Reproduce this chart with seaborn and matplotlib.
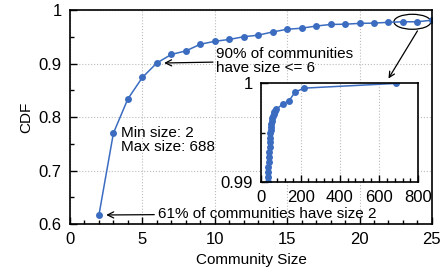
import matplotlib
matplotlib.use("Agg")
import matplotlib.pyplot as plt
import seaborn as sns
import pandas as pd
from matplotlib.patches import Ellipse
from matplotlib.ticker import MultipleLocator

# CDF of community sizes (main view, sizes 2..25)
sizes = [2, 3, 4, 5, 6, 7, 8, 9, 10, 11, 12, 13, 14, 15, 16, 17, 18, 19, 20, 21, 22, 23, 24, 25]
cdf = [0.617, 0.770, 0.834, 0.874, 0.901, 0.917, 0.9235, 0.936, 0.9415, 0.945, 0.950, 0.953,
       0.959, 0.964, 0.966, 0.970, 0.973, 0.9735, 0.975, 0.9755, 0.977, 0.978, 0.978, 0.981]

# tail of the same CDF (inset, zoomed to 0.99..1)
tail_sizes = [30, 32, 33, 35, 36, 38, 39, 40, 42, 43, 44, 45, 47, 48, 50, 52, 55, 58, 62, 66,
              70, 75, 109, 141, 172, 218, 688]
tail_cdf = [0.9895, 0.9900, 0.9905, 0.9910, 0.9915, 0.9920, 0.9925, 0.9930, 0.9935, 0.9940,
            0.9945, 0.9950, 0.9953, 0.9956, 0.9959, 0.9962, 0.9965, 0.9967, 0.9969, 0.9971,
            0.9972, 0.99735, 0.9979, 0.99823, 0.99912, 0.99952, 1.0]

main_df = pd.DataFrame({"size": sizes, "cdf": cdf})
tail_df = pd.DataFrame({"size": tail_sizes, "cdf": tail_cdf})

sns.set_style("ticks")
plt.rcParams["font.family"] = ["Liberation Sans", "DejaVu Sans"]
plt.rcParams["text.color"] = "black"
plt.rcParams["axes.labelcolor"] = "black"
plt.rcParams["xtick.color"] = "black"
plt.rcParams["ytick.color"] = "black"
plt.rcParams["axes.edgecolor"] = "black"
blue = "#3b6cc0"


def fmt(v, p):
    return "1" if abs(v - 1) < 1e-9 else f"{v:g}"


fig = plt.figure(figsize=(4.43, 2.78), dpi=100)
ax = fig.add_axes([0.158, 0.194, 0.817, 0.770])

sns.lineplot(data=main_df, x="size", y="cdf", ax=ax, color=blue, marker="o",
             markersize=5, markeredgewidth=0, linewidth=1.1)
ax.set_xlim(0, 25)
ax.set_ylim(0.6, 1.0)
ax.xaxis.set_major_locator(MultipleLocator(5))
ax.xaxis.set_minor_locator(MultipleLocator(1))
ax.yaxis.set_major_locator(MultipleLocator(0.1))
ax.yaxis.set_minor_locator(MultipleLocator(0.05))
ax.yaxis.set_major_formatter(plt.FuncFormatter(lambda v, p: "1" if abs(v - 1) < 1e-9 else f"{v:.1f}"))
ax.tick_params(which="major", direction="in", length=5, width=1, labelsize=12, pad=6)
ax.tick_params(which="minor", direction="in", length=3, width=1)
ax.grid(True, which="major", color="#bbbbbb", linestyle=":", linewidth=0.8)
for s in ax.spines.values():
    s.set_linewidth(1.2)
ax.set_xlabel("Community Size", fontsize=11)
ax.set_ylabel("CDF", fontsize=11)

arrow = dict(arrowstyle="->", color="black", lw=0.9, shrinkA=0, shrinkB=0)
ax.annotate("90% of communities\nhave size <= 6", xy=(6.5, 0.901), xytext=(10.1, 0.905),
            fontsize=11, va="center", ha="left", arrowprops=arrow, linespacing=1.0)
ax.text(3.55, 0.757, "Min size: 2\nMax size: 688", fontsize=11, va="center", ha="left",
        linespacing=1.0)
ax.annotate("61% of communities have size 2", xy=(2.5, 0.617), xytext=(6.05, 0.619),
            fontsize=11, va="center", ha="left", arrowprops=arrow)

ax.add_patch(Ellipse((23.65, 0.978), 2.55, 0.028, fill=False, edgecolor="black", lw=0.9))
ax.annotate("", xy=(22.0, 0.872), xytext=(24.0, 0.961), arrowprops=arrow)

ins = fig.add_axes([0.590, 0.346, 0.354, 0.354])
sns.lineplot(data=tail_df, x="size", y="cdf", ax=ins, color=blue, marker="o",
             markersize=5, markeredgewidth=0, linewidth=1.1)
ins.set_xlim(0, 800)
ins.set_ylim(0.99, 1.0)
ins.xaxis.set_major_locator(MultipleLocator(200))
ins.xaxis.set_minor_locator(MultipleLocator(40))
ins.yaxis.set_major_locator(MultipleLocator(0.01))
ins.yaxis.set_minor_locator(MultipleLocator(0.005))
ins.yaxis.set_major_formatter(plt.FuncFormatter(lambda v, p: "1" if abs(v - 1) < 1e-9 else f"{v:.2f}"))
ins.tick_params(which="major", direction="in", length=5, width=1, labelsize=12, pad=6)
ins.tick_params(which="minor", direction="in", length=3, width=1)
ins.grid(True, which="major", axis="x", color="#bbbbbb", linestyle=":", linewidth=0.8)
for s in ins.spines.values():
    s.set_linewidth(1.2)
ins.set_xlabel("")
ins.set_ylabel("")

fig.savefig("out.png", dpi=100)
